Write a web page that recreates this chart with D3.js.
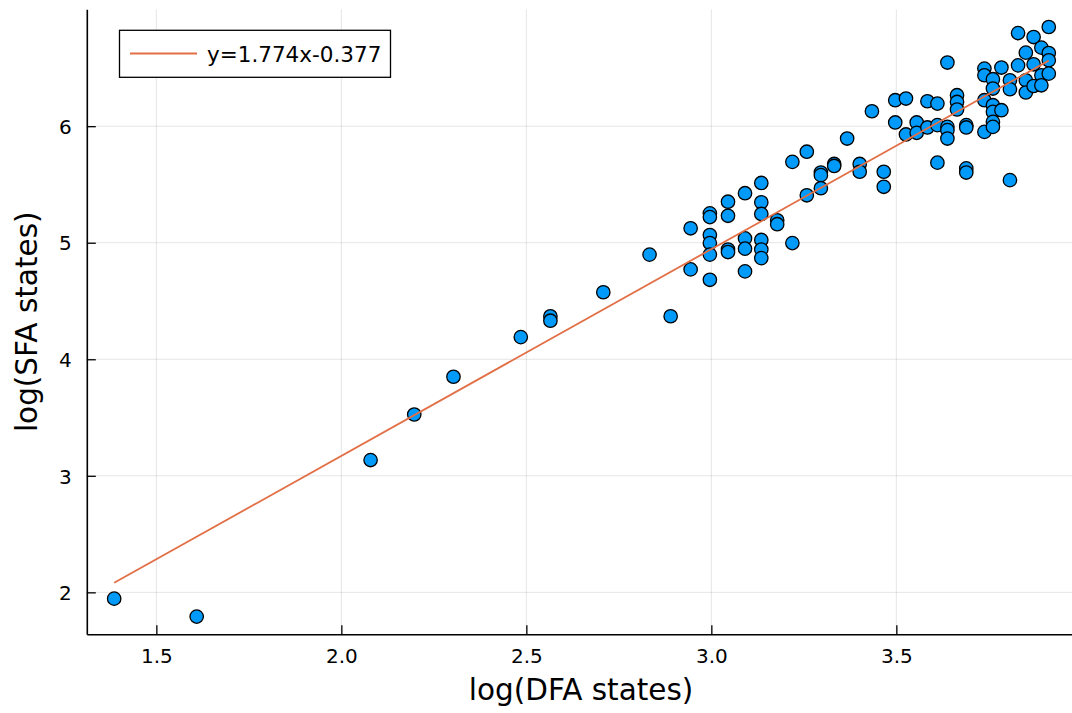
<!DOCTYPE html>
<html>
<head>
<meta charset="utf-8">
<script src="https://cdn.jsdelivr.net/npm/d3@7"></script>
<style>
  html, body { margin: 0; padding: 0; background: #fff; }
  svg { display: block; font-family: "DejaVu Sans", sans-serif; }
</style>
</head>
<body>
<svg id="chart" width="1072" height="713"></svg>
<script>
// ---- data ----
const dfaLog = [
  1.386, 1.609, 2.079, 2.197, 2.303, 2.485, 2.565, 2.565, 2.708, 2.833, 2.890,
  2.944, 2.944,
  2.996, 2.996, 2.996, 2.996, 2.996, 2.996,
  3.045, 3.045, 3.045, 3.045,
  3.091, 3.091, 3.091, 3.091,
  3.135, 3.135, 3.135, 3.135, 3.135, 3.135,
  3.178, 3.178,
  3.219, 3.219,
  3.258, 3.258,
  3.296, 3.296, 3.296,
  3.332, 3.332,
  3.367,
  3.401, 3.401,
  3.434,
  3.466, 3.466,
  3.497, 3.497,
  3.526, 3.526,
  3.555, 3.555,
  3.584, 3.584,
  3.611, 3.611, 3.611,
  3.638, 3.638, 3.638, 3.638,
  3.664, 3.664, 3.664,
  3.689, 3.689, 3.689, 3.689,
  3.738, 3.738, 3.738, 3.738,
  3.761, 3.761, 3.761, 3.761, 3.761, 3.761,
  3.784, 3.784,
  3.807, 3.807, 3.807,
  3.829, 3.829,
  3.850, 3.850, 3.850,
  3.871, 3.871, 3.871,
  3.892, 3.892, 3.892,
  3.912, 3.912, 3.912, 3.912
];
const sfaLog = [
  1.946, 1.792, 3.135, 3.526, 3.850, 4.190, 4.369, 4.331, 4.575, 4.898, 4.369,
  5.124, 4.771,
  5.252, 5.220, 5.066, 4.997, 4.898, 4.682,
  5.352, 5.231, 4.942, 4.920,
  5.425, 5.037, 4.949, 4.754,
  5.513, 5.347, 5.247, 5.024, 4.942, 4.868,
  5.193, 5.159,
  5.694, 4.997,
  5.781, 5.407,
  5.602, 5.580, 5.468,
  5.676, 5.659,
  5.894,
  5.676, 5.609,
  6.128,
  5.609, 5.480,
  6.223, 6.032,
  6.237, 5.929,
  6.032, 5.943,
  6.214, 5.989,
  6.194, 6.009, 5.687,
  6.546, 5.994, 5.966, 5.894,
  6.266, 6.208, 6.143,
  6.009, 5.989, 5.638, 5.602,
  6.494, 6.437, 6.223, 5.951,
  6.403, 6.323, 6.180, 6.123, 6.037, 5.994,
  6.503, 6.137,
  6.394, 6.317, 5.537,
  6.799, 6.522,
  6.631, 6.394, 6.289,
  6.765, 6.531, 6.345,
  6.674, 6.437, 6.351,
  6.851, 6.628, 6.566, 6.451
];
const fitSlope = 1.774;
const fitIntercept = -0.377;
const fitLabel = "y=1.774x-0.377";
const xTicks = [1.5, 2.0, 2.5, 3.0, 3.5];
const yTicks = [2, 3, 4, 5, 6];
const xTitle = "log(DFA states)";
const yTitle = "log(SFA states)";

// ---- layout ----
const svg = d3.select("#chart");
const pLeft = 86.8, pRight = 1076.9, pTop = 9.3, pBottom = 634.3;
const x = d3.scaleLinear().domain([1.312, 3.988]).range([pLeft, pRight]);
const y = d3.scaleLinear().domain([1.64, 7.003]).range([pBottom, pTop]);

// grid
const grid = svg.append("g");
grid.selectAll("line.gx").data(xTicks).join("line").attr("class", "gx")
  .attr("x1", d => x(d)).attr("x2", d => x(d))
  .attr("y1", pTop).attr("y2", pBottom)
  .attr("stroke", "#000").attr("stroke-opacity", 0.1).attr("stroke-width", 1);
grid.selectAll("line.gy").data(yTicks).join("line").attr("class", "gy")
  .attr("y1", d => y(d)).attr("y2", d => y(d))
  .attr("x1", pLeft).attr("x2", pRight)
  .attr("stroke", "#000").attr("stroke-opacity", 0.1).attr("stroke-width", 1);

// axes (ticks pointing inward)
const xAxis = d3.axisTop(x).tickValues(xTicks).tickFormat(d3.format(".1f")).tickSize(9).tickSizeOuter(0);
const gx = svg.append("g").attr("transform", `translate(0,${pBottom})`).call(xAxis);
gx.select(".domain").attr("stroke", "#000").attr("stroke-width", 1.6);
gx.selectAll(".tick line").attr("stroke", "#000").attr("stroke-width", 1.3);
gx.selectAll(".tick text")
  .attr("y", 29).attr("dy", 0)
  .attr("font-size", 20).attr("font-family", "DejaVu Sans").attr("fill", "#000");

const yAxis = d3.axisRight(y).tickValues(yTicks).tickFormat(d3.format("d")).tickSize(9).tickSizeOuter(0);
const gy = svg.append("g").attr("transform", `translate(${pLeft},0)`).call(yAxis);
gy.select(".domain").attr("stroke", "#000").attr("stroke-width", 1.6);
gy.selectAll(".tick line").attr("stroke", "#000").attr("stroke-width", 1.3);
gy.selectAll(".tick text")
  .attr("x", -15).attr("text-anchor", "end").attr("dy", "0.36em")
  .attr("font-size", 20).attr("font-family", "DejaVu Sans").attr("fill", "#000");

// scatter
const pts = dfaLog.map((d, i) => ({ x: d, y: sfaLog[i] }));
svg.append("g").selectAll("circle").data(pts).join("circle")
  .attr("cx", d => x(d.x)).attr("cy", d => y(d.y)).attr("r", 6.7)
  .attr("fill", "#009AFA").attr("stroke", "#000").attr("stroke-width", 1.3);

// fit line
const [fx0, fx1] = d3.extent(dfaLog);
const fitPts = [fx0, fx1].map(v => ({ x: v, y: fitSlope * v + fitIntercept }));
svg.append("path").datum(fitPts)
  .attr("d", d3.line().x(d => x(d.x)).y(d => y(d.y)))
  .attr("fill", "none").attr("stroke", "#E26F46").attr("stroke-width", 1.8);

// axis titles
svg.append("text").attr("x", 581).attr("y", 700)
  .attr("text-anchor", "middle").attr("font-size", 29.5).attr("fill", "#000")
  .text(xTitle);
svg.append("text")
  .attr("transform", `translate(37,${(pTop + pBottom) / 2}) rotate(-90)`)
  .attr("text-anchor", "middle").attr("font-size", 29.5).attr("fill", "#000")
  .text(yTitle);

// legend
const lg = svg.append("g");
lg.append("rect").attr("x", 119.5).attr("y", 30.3).attr("width", 271).attr("height", 47)
  .attr("fill", "#fff").attr("stroke", "#000").attr("stroke-width", 1.3);
lg.append("line").attr("x1", 130).attr("x2", 197).attr("y1", 53.5).attr("y2", 53.5)
  .attr("stroke", "#E26F46").attr("stroke-width", 1.8);
lg.append("text").attr("x", 207).attr("y", 61.5).attr("font-size", 21.5).attr("fill", "#000")
  .text(fitLabel);
</script>
</body>
</html>
